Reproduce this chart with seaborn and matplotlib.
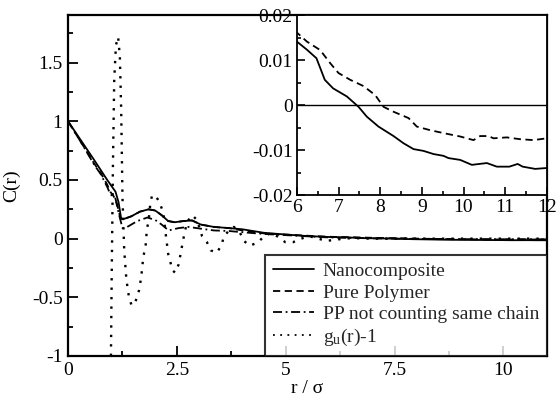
import numpy as np
import pandas as pd
import matplotlib
matplotlib.use("Agg")
import matplotlib.pyplot as plt
import seaborn as sns
from matplotlib.ticker import MultipleLocator, FixedLocator

# ---------------- data ----------------
r_nano = [0, 0.3, 0.6, 0.9, 1.09, 1.16, 1.22, 1.3, 1.45, 1.65, 1.85, 2.0, 2.15, 2.3, 2.45,
          2.65, 2.85, 3.05, 3.35, 3.7, 4.0, 4.5, 5.0, 5.5, 6.0, 6.24, 6.47, 6.67, 6.87,
          7.2, 7.48, 7.68, 7.96, 8.32, 8.56, 8.8, 9.04, 9.28, 9.52, 9.64, 9.92, 10.2,
          10.56, 10.8, 11.1, 11.3, 11.42, 11.72, 12.0]
c_nano = [1.0, 0.835, 0.67, 0.50, 0.40, 0.31, 0.17, 0.17, 0.19, 0.23, 0.25, 0.24, 0.20,
          0.15, 0.14, 0.15, 0.155, 0.12, 0.10, 0.09, 0.08, 0.05, 0.035, 0.022, 0.0141,
          0.0123, 0.0104, 0.0056, 0.0037, 0.0019, -0.0004, -0.0026, -0.0048, -0.0069,
          -0.0085, -0.0098, -0.0102, -0.0109, -0.0113, -0.0118, -0.0122, -0.0133,
          -0.0129, -0.0137, -0.0137, -0.0131, -0.0137, -0.0142, -0.0140]

r_pure = [0, 0.3, 0.6, 0.75, 0.9, 0.97, 1.05, 1.12, 1.2, 1.25, 1.3, 1.45, 1.65, 1.85, 2.0,
          2.15, 2.3, 2.45, 2.65, 2.85, 3.05, 3.35, 3.7, 4.0, 4.5, 5.0, 5.5, 6.0, 6.24,
          6.56, 6.8, 7.0, 7.28, 7.6, 7.88, 8.08, 8.32, 8.68, 8.88, 9.2, 9.6, 9.92, 10.24,
          10.4, 10.6, 10.72, 11.04, 11.36, 11.68, 12.0]
c_pure = [1.0, 0.82, 0.64, 0.56, 0.46, 0.40, 0.36, 0.30, 0.18, 0.16, 0.17, 0.19, 0.23,
          0.25, 0.24, 0.20, 0.15, 0.14, 0.15, 0.155, 0.12, 0.10, 0.09, 0.07, 0.045,
          0.035, 0.025, 0.0161, 0.0141, 0.0122, 0.0093, 0.0071, 0.0056, 0.0042, 0.0022,
          -0.0004, -0.0015, -0.0029, -0.0048, -0.0056, -0.0064, -0.0070, -0.0078,
          -0.0069, -0.0069, -0.0074, -0.0072, -0.0076, -0.0078, -0.0074]

r_pp = [0, 0.3, 0.6, 0.75, 0.9, 0.97, 1.09, 1.16, 1.25, 1.36, 1.59, 1.82, 2.0, 2.15, 2.31,
        2.54, 2.77, 3.05, 3.35, 3.7, 4.0, 4.5, 5.0, 5.5, 6.0, 7.0, 8.0, 9.0, 10.0, 11.0]
c_pp = [1.0, 0.82, 0.63, 0.55, 0.44, 0.38, 0.34, 0.22, 0.09, 0.10, 0.15, 0.18, 0.16, 0.12,
        0.07, 0.09, 0.10, 0.085, 0.07, 0.065, 0.055, 0.04, 0.03, 0.02, 0.01, 0.003,
        -0.002, -0.004, -0.005, -0.005]

r_g = [0.985, 1.0, 1.03, 1.06, 1.10, 1.15, 1.19, 1.22, 1.25, 1.29, 1.34, 1.40, 1.46, 1.52,
       1.58, 1.63, 1.68, 1.73, 1.78, 1.81, 1.85, 1.89, 1.93, 2.02, 2.10, 2.19, 2.24, 2.30,
       2.35, 2.40, 2.46, 2.54, 2.59, 2.65, 2.73, 2.85, 2.96, 3.08, 3.19, 3.28, 3.42, 3.53,
       3.58, 3.70, 3.81, 3.95, 4.04, 4.18, 4.37, 4.50, 4.67, 4.85, 4.99, 5.17, 5.35, 5.55,
       5.75, 5.94, 6.10, 6.5, 7.0, 8.0, 9.0, 10.0, 11.0]
c_g = [-1.0, -0.4, 0.6, 1.35, 1.65, 1.72, 1.55, 1.1, 0.35, -0.1, -0.35, -0.5, -0.57, -0.55,
       -0.51, -0.44, -0.33, -0.15, -0.07, 0.08, 0.15, 0.30, 0.37, 0.36, 0.31, 0.22, 0.05,
       -0.13, -0.2, -0.27, -0.29, -0.22, -0.12, 0.0, 0.14, 0.2, 0.16, 0.02, -0.03, -0.1,
       -0.12, -0.05, 0.02, 0.07, 0.1, 0.05, -0.02, -0.06, -0.03, 0.02, 0.05, 0.01, -0.03,
       -0.03, 0.0, 0.02, 0.0, -0.02, -0.01, 0.005, 0.0, 0.0, 0.0, 0.0, 0.0]

main_xticks = [0, 2.5, 5, 7.5, 10]
main_xlabels = ["0", "2.5", "5", "7.5", "10"]
main_yticks = [-1, -0.5, 0, 0.5, 1, 1.5]
main_ylabels = ["-1", "-0.5", "0", "0.5", "1", "1.5"]
ins_xticks = [6, 7, 8, 9, 10, 11, 12]
ins_xlabels = ["6", "7", "8", "9", "10", "11", "12"]
ins_yticks = [-0.02, -0.01, 0, 0.01, 0.02]
ins_ylabels = ["-0.02", "-0.01", "0", "0.01", "0.02"]

labels = ["Nanocomposite", "Pure Polymer", "PP not counting same chain",
          r"g$_\mathregular{u}$(r)-1"]

# ---------------- style ----------------
sns.set_theme(style="white")
plt.rcParams["font.family"] = ["Liberation Serif", "DejaVu Serif"]
plt.rcParams["mathtext.fontset"] = "custom"
plt.rcParams["mathtext.rm"] = "Liberation Serif"
plt.rcParams["mathtext.it"] = "Liberation Serif"
plt.rcParams["axes.unicode_minus"] = False

FS = 14
fig = plt.figure(figsize=(5.58, 4.0), dpi=100)
ax = fig.add_axes([0.122, 0.11, 0.858, 0.8525])

lw = 1.3
styles = [
    dict(linestyle="-"),
    dict(linestyle=(0, (4, 2.5))),
    dict(linestyle=(0, (5, 2, 1, 2))),
    dict(linestyle=(0, (1, 3)), linewidth=1.7),
]
series = [(r_nano, c_nano), (r_pure, c_pure), (r_pp, c_pp), (r_g, c_g)]
for (xs, ys), lab, st in zip(series, labels, styles):
    kw = dict(color="black", linewidth=lw)
    kw.update(st)
    sns.lineplot(x=xs, y=ys, ax=ax, label=lab, sort=False, estimator=None, **kw)

ax.set_xlim(0, 11.0)
ax.set_ylim(-1, 1.906)
ax.xaxis.set_major_locator(FixedLocator(main_xticks))
ax.set_xticklabels(main_xlabels)
ax.xaxis.set_minor_locator(MultipleLocator(1.25))
ax.yaxis.set_major_locator(FixedLocator(main_yticks))
ax.set_yticklabels(main_ylabels)
ax.yaxis.set_minor_locator(MultipleLocator(0.25))
ax.tick_params(which="both", direction="in", labelsize=FS, colors="black",
               left=True, bottom=True, top=False, right=False, width=1.3, pad=4)
ax.tick_params(which="major", length=7)
ax.tick_params(which="minor", length=3.5)
for s in ax.spines.values():
    s.set_color("black")
    s.set_linewidth(1.6)
ax.set_xlabel("r / σ", fontsize=FS, color="black", labelpad=1)
ax.set_ylabel("C(r)", fontsize=FS, color="black", labelpad=8)

leg = ax.legend(loc="lower right", fontsize=FS, frameon=True, fancybox=False,
                borderaxespad=0.0, handlelength=2.1, handletextpad=0.45,
                labelspacing=0.2, borderpad=0.4)
leg.get_frame().set_edgecolor("black")
leg.get_frame().set_linewidth(1.5)
for h in leg.get_lines():
    h.set_linewidth(1.3)

# ---------------- inset ----------------
ins = fig.add_axes([0.532, 0.5125, 0.448, 0.45])
ins.set_facecolor("white")
for (xs, ys), st in zip(series[:2], styles[:2]):
    kw = dict(color="black", linewidth=lw)
    kw.update(st)
    sns.lineplot(x=xs, y=ys, ax=ins, sort=False, estimator=None, legend=False, **kw)
ins.axhline(0, color="black", linewidth=1.0)
ins.set_xlim(6, 12)
ins.set_ylim(-0.02, 0.02)
ins.xaxis.set_major_locator(FixedLocator(ins_xticks))
ins.set_xticklabels(ins_xlabels)
ins.xaxis.set_minor_locator(MultipleLocator(0.5))
ins.yaxis.set_major_locator(FixedLocator(ins_yticks))
ins.set_yticklabels(ins_ylabels)
ins.yaxis.set_minor_locator(MultipleLocator(0.005))
ins.tick_params(which="both", direction="in", labelsize=FS, colors="black",
                left=True, bottom=True, top=False, right=False, width=1.2, pad=3)
ins.tick_params(which="major", length=6)
ins.tick_params(which="minor", length=3)
for s in ins.spines.values():
    s.set_color("black")
    s.set_linewidth(1.3)
ins.set_xlabel("")
ins.set_ylabel("")

fig.savefig("out.png", dpi=100)
